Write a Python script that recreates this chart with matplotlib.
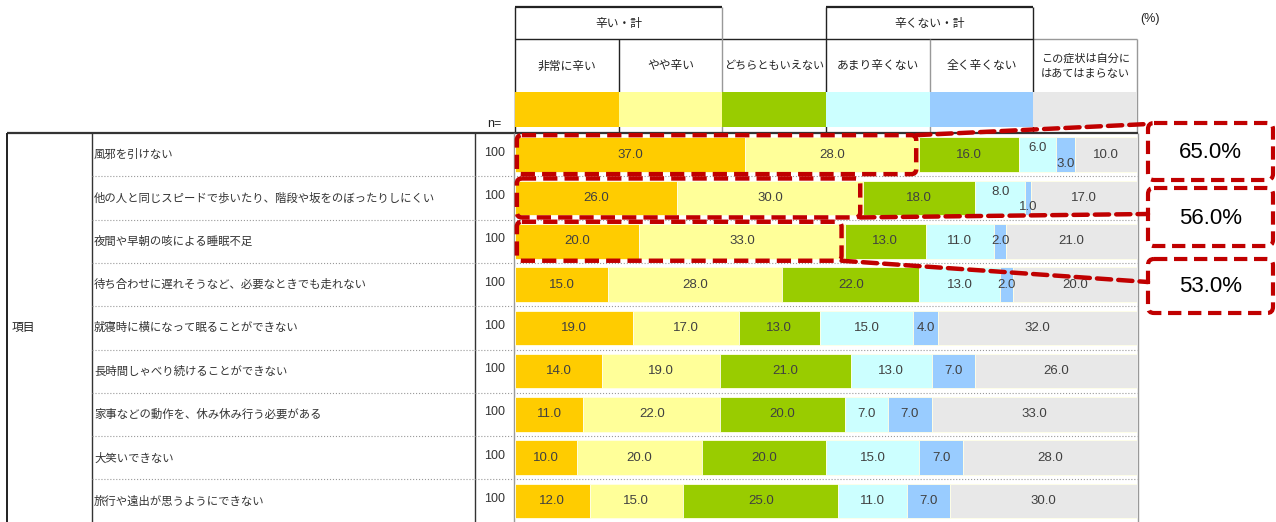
import matplotlib.pyplot as plt
from matplotlib.patches import Rectangle, FancyBboxPatch, ConnectionPatch

JP = ["Noto Sans CJK JP", "DejaVu Sans"]
NUM = ["Liberation Sans Narrow", "Liberation Sans", "DejaVu Sans"]
ARIAL = ["Liberation Sans", "DejaVu Sans"]

# data
items = [
    "風邪を引けない",
    "他の人と同じスピードで歩いたり、階段や坂をのぼったりしにくい",
    "夜間や早朝の咳による睡眠不足",
    "待ち合わせに遅れそうなど、必要なときでも走れない",
    "就寝時に横になって眠ることができない",
    "長時間しゃべり続けることができない",
    "家事などの動作を、休み休み行う必要がある",
    "大笑いできない",
    "旅行や遠出が思うようにできない",
]
n_values = [100, 100, 100, 100, 100, 100, 100, 100, 100]
categories = ["非常に辛い", "やや辛い", "どちらともいえない", "あまり辛くない",
              "全く辛くない", "この症状は自分に\nはあてはまらない"]
group_labels = ["辛い・計", "辛くない・計"]
very_hard = [37, 26, 20, 15, 19, 14, 11, 10, 12]
somewhat_hard = [28, 30, 33, 28, 17, 19, 22, 20, 15]
neither = [16, 18, 13, 22, 13, 21, 20, 20, 25]
not_very_hard = [6, 8, 11, 13, 15, 13, 7, 15, 11]
not_hard = [3, 1, 2, 2, 4, 7, 7, 7, 7]
not_applicable = [10, 17, 21, 20, 32, 26, 33, 28, 30]
highlight_rows = [0, 1, 2]

series = [very_hard, somewhat_hard, neither, not_very_hard, not_hard, not_applicable]
colors = ["#FFCC00", "#FFFF99", "#99CC00", "#CCFFFF", "#99CCFF", "#E8E8E8"]
RED = "#C00000"
TXT = "#404040"

# layout (pixels)
W, H = 1276, 522
BAR_X0, BAR_X1 = 515, 1137
TABLE_TOP = 133
ROW_H = 43.3
n_rows = len(items)
col_w = (BAR_X1 - BAR_X0) / len(categories)
col_x = [BAR_X0 + k * col_w for k in range(len(categories) + 1)]
px = 0.72  # one pixel in points

fig = plt.figure(figsize=(W / 100, H / 100), dpi=100)
bg = fig.add_axes([0, 0, 1, 1])
bg.set_xlim(0, W)
bg.set_ylim(H, 0)
bg.axis("off")


def line(x0, y0, x1, y1, color="#333333", lw=1.0, ls="-"):
    bg.plot([x0, x1], [y0, y1], color=color, lw=lw * px * 1.4, ls=ls,
            solid_capstyle="butt")


# header
DARK, GREY = "#222222", "#999999"
line(col_x[0], 7, col_x[2], 7, DARK, 1.6)
line(col_x[3], 7, col_x[5], 7, DARK, 1.6)
line(col_x[0], 39, col_x[5], 39, DARK)
line(col_x[5], 39, col_x[6], 39, GREY)
line(col_x[0], 7, col_x[0], TABLE_TOP, DARK)
line(col_x[1], 39, col_x[1], TABLE_TOP, DARK)
line(col_x[2], 7, col_x[2], TABLE_TOP, GREY)
line(col_x[3], 7, col_x[3], TABLE_TOP, DARK)
line(col_x[4], 39, col_x[4], TABLE_TOP, GREY)
line(col_x[5], 7, col_x[5], TABLE_TOP, DARK)
line(col_x[6], 39, col_x[6], TABLE_TOP, GREY)

bg.text((col_x[0] + col_x[2]) / 2, 23, group_labels[0], ha="center", va="center",
        fontsize=8.5, family=JP, color="#222222")
bg.text((col_x[3] + col_x[5]) / 2, 23, group_labels[1], ha="center", va="center",
        fontsize=8.5, family=JP, color="#222222")
for k, cat in enumerate(categories):
    cx = (col_x[k] + col_x[k + 1]) / 2
    fs = 8.0 if len(cat) > 8 else 8.5
    bg.text(cx, 66, cat, ha="center", va="center", fontsize=fs, family=JP,
            color="#222222", linespacing=1.6)
    bg.add_patch(Rectangle((col_x[k], 92), col_w, 35, facecolor=colors[k],
                           edgecolor="none", zorder=3))
bg.text(1140, 19, "(%)", ha="left", va="center", fontsize=9, family=ARIAL, color="#222222")
bg.text(487, 124, "n=", ha="left", va="center", fontsize=9, family=ARIAL, color="#222222")

# left table
line(7, TABLE_TOP, BAR_X1 + 1, TABLE_TOP, "#333333", 1.6)
line(7, TABLE_TOP, 7, H, DARK, 1.4)
line(92, TABLE_TOP, 92, H, "#333333")
line(475, TABLE_TOP, 475, H, "#333333")
line(BAR_X0 - 1, TABLE_TOP, BAR_X0 - 1, H, GREY)
line(BAR_X1 + 1, TABLE_TOP, BAR_X1 + 1, H, GREY)
for k in range(1, n_rows):
    y = TABLE_TOP + ROW_H * k
    line(92, y, BAR_X1, y, "#9A9A9A", 0.8, ":")
bg.text(12, TABLE_TOP + ROW_H * n_rows / 2, "項目", ha="left", va="center",
        fontsize=8.5, family=JP, color="#222222")
for i, (label, n) in enumerate(zip(items, n_values)):
    y = TABLE_TOP + ROW_H * (i + 0.5)
    bg.text(94, y, label, ha="left", va="center", fontsize=8.2, family=JP, color="#333333")
    bg.text(505, y - 2, str(n), ha="right", va="center", fontsize=9, family=NUM, color="#333333")

# bars
ax = fig.add_axes([BAR_X0 / W, (H - TABLE_TOP - ROW_H * n_rows) / H,
                   (BAR_X1 - BAR_X0) / W, ROW_H * n_rows / H])
ax.set_xlim(0, 100)
ax.set_ylim(n_rows - 0.5, -0.5)
ax.axis("off")
ax.patch.set_alpha(0)

label_shift = {(0, 3): -0.15, (0, 4): 0.21, (1, 3): -0.14, (1, 4): 0.22}
rows = list(range(n_rows))
left = [0] * n_rows
for k, vals in enumerate(series):
    ax.barh(rows, vals, left=left, height=0.8, color=colors[k],
            edgecolor="#FFFFE6", linewidth=0.6)
    for i, v in enumerate(vals):
        ax.text(left[i] + v / 2, i + label_shift.get((i, k), 0), f"{v:.1f}",
                ha="center", va="center", fontsize=9.5, family=NUM, color=TXT)
    left = [a + b for a, b in zip(left, vals)]

# highlight boxes and callouts
x_per_px = 100 / (BAR_X1 - BAR_X0)
aspect = (1 / ROW_H) / x_per_px
dash = (0, (3.2, 1.6))
callout_boxes = [(1148, 123, 125, 57), (1148, 188, 125, 58), (1148, 259, 125, 54)]
callout_anchor = [124, 214, 282]
corner = [-0.45, 0.45, 0.45]
for j, i in enumerate(highlight_rows):
    total = very_hard[i] + somewhat_hard[i]
    ax.add_patch(FancyBboxPatch((0.3, i - 0.45), total - 0.8, 0.9,
                                boxstyle=f"round,pad=0,rounding_size={5 * x_per_px}",
                                mutation_aspect=aspect, fill=False, edgecolor=RED,
                                lw=3.2, ls=dash, clip_on=False, zorder=5))
    bx, by, bw, bh = callout_boxes[j]
    bg.add_patch(FancyBboxPatch((bx, by), bw, bh, boxstyle="round,pad=0,rounding_size=6",
                                fill=False, edgecolor=RED, lw=3.0, ls=dash, zorder=5))
    bg.text(bx + bw / 2, by + bh / 2 + 1, f"{total:.1f}%", ha="center", va="center",
            fontsize=16, family=ARIAL, color="black", zorder=6)
    con = ConnectionPatch(xyA=(total - 0.5, i + corner[j]), coordsA=ax.transData,
                          xyB=(bx, callout_anchor[j]), coordsB=bg.transData,
                          color=RED, lw=3.2, ls=dash, zorder=6)
    fig.add_artist(con)

fig.savefig("out.png", dpi=100)
